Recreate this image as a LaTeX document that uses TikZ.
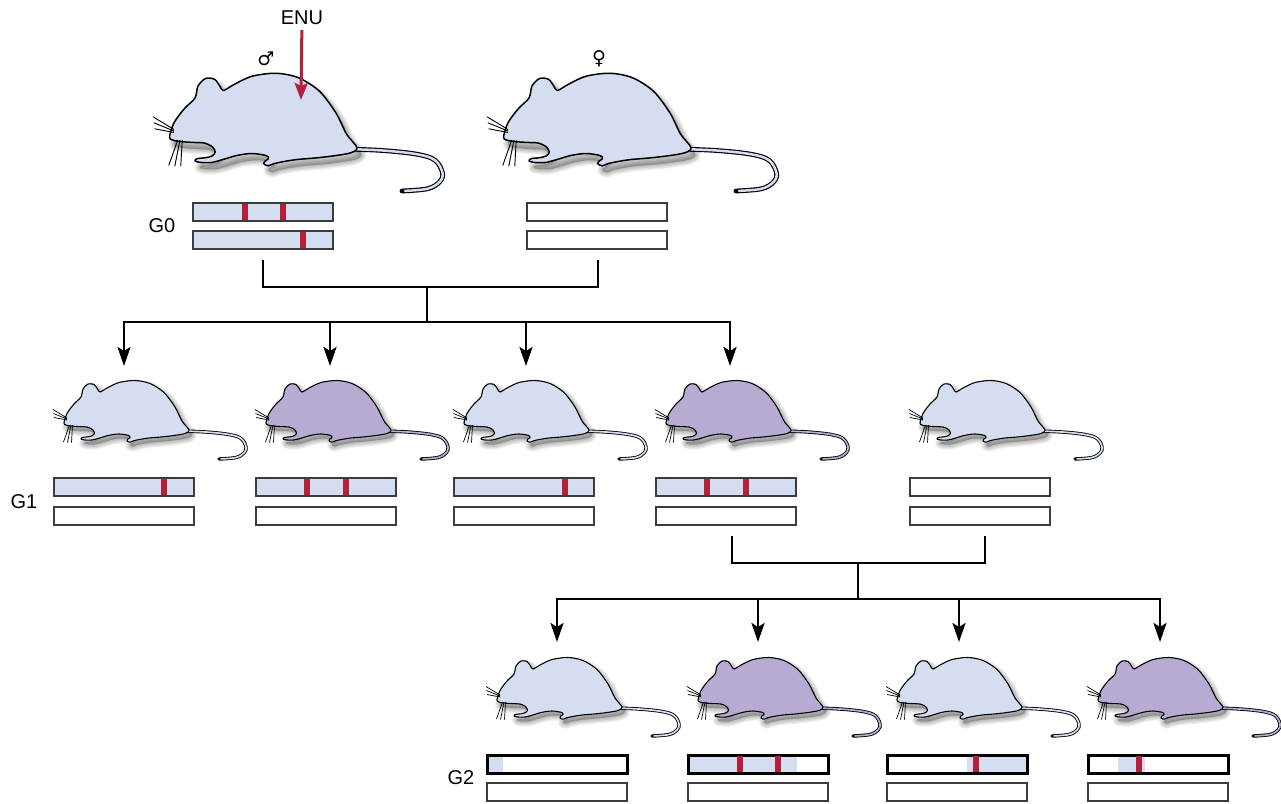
\documentclass[tikz,border=0pt]{standalone}
\usepackage{fontspec}
\setmainfont{Liberation Sans}
\newfontfamily\symbolfont{DejaVu Sans}
\usetikzlibrary{arrows.meta}

\definecolor{mouseblue}{HTML}{D5DEF0}
\definecolor{mousepurple}{HTML}{B8ABD3}
\definecolor{mutred}{HTML}{B41F3C}
\definecolor{barline}{HTML}{3C3C3C}

% mouse silhouette in local units (y grows downward)
\def\mousebody{plot[smooth cycle, tension=0.5] coordinates {
 (15,48) (18,38.5) (25,29) (32,22) (34,14) (39,9) (45,9.5) (48.5,14) (51,17)
 (58,13) (70,7.5) (86,5.5) (101,8.5) (115,17.5) (126,32) (133,46) (140,55)
 (136,58.5) (125,60.5) (112,62) (100,63) (91,64.4) (84.5,65.8) (81,67.2)
 (78,66) (78.5,64.3) (81,62.4) (79.5,60.4) (70,59) (60,60.3) (50,63.2)
 (43,65) (36,65) (32,64) (33.5,62.4) (39,61.8) (43.5,60.6) (45.5,58)
 (43.5,54.5) (38,52) (30,51.6) (22,51) (17,50)}}
\def\mousetail{plot[smooth, tension=0.6] coordinates {
 (132,56) (157,57) (180,59.5) (192,63.5) (197,72) (195,78) (187,82.5) (170,84)}}
\def\mousetailin{plot[smooth, tension=0.6] coordinates {
 (132,56) (157,57) (180,59.5) (192,63.5) (197,72) (195,78) (187,82.5) (172,83.9)}}

% line widths of a mouse drawing (changed for the larger parents)
\def\bodylw{1.1pt}
\def\tailout{3.4pt}
\def\tailin{1.7pt}
\def\whiskerlw{0.7pt}

\tikzset{
  pics/mouse/.style={code={
    % soft drop shadow
    \foreach \w in {10,7.5,5,2.5}{
      \filldraw[black, fill opacity=0.065, draw opacity=0.065, line width=\w pt,
        line join=round, shift={(3,4.5)}] \mousebody;
    }
    % tail
    \draw[black, line width=\tailout, line cap=round] \mousetail;
    \draw[#1, line width=\tailin, line cap=round] \mousetailin;
    % body
    \draw[fill=#1, line width=\bodylw, line join=round] \mousebody;
    % whiskers
    \draw[line width=\whiskerlw]
      (18,43) -- (4,34.5)  (18,44) -- (4.5,38.5)  (18,45) -- (5,42.5)
      (20.5,50) -- (14.5,67)  (22,50) -- (18.5,67.5)  (23.5,50) -- (22.5,67.5);
  }},
  chrbox/.style={draw=barline, line width=1.4pt, minimum width=140pt,
    minimum height=18pt, inner sep=0pt, outer sep=0pt, anchor=north west, fill=white},
  chrblue/.style={chrbox, fill=mouseblue},
  chrbold/.style={draw=black, line width=3pt},
  lbl/.style={font=\fontsize{20}{24}\selectfont, inner sep=1pt},
  link/.style={line width=2.5pt, line cap=rect},
  linkarrow/.style={line width=2.5pt, -{Stealth[length=19pt, width=13pt, inset=4pt]}},
  enuarrow/.style={mutred, line width=3pt, -{Stealth[length=17pt, width=13pt, inset=3pt]}}
}

% red mutation mark inside a bar: #1 bar node, #2 offset from left end
\newcommand{\mutmark}[2]{%
  \fill[mutred] ([xshift={(#2-3)*1pt}, yshift=-0.7pt]#1.north west)
    rectangle ([xshift={(#2+3)*1pt}, yshift=0.7pt]#1.south west);}
% blue stretch inside a white bar: #1 bar node, #2 from, #3 to, #4 inset
\newcommand{\bluestretch}[4]{%
  \fill[mouseblue] ([xshift={(#2+#4)*1pt}, yshift={-#4*1pt}]#1.north west)
    rectangle ([xshift={(#3-#4)*1pt}, yshift={#4*1pt}]#1.south west);}

\begin{document}
\begin{tikzpicture}[x=1pt, y=-1pt]
\useasboundingbox (0,0) rectangle (1281,803);
\fill[white] (0,0) rectangle (1281,803);

% ---------- G0 parents ----------
\begin{scope}
  \def\bodylw{1.5pt}\def\tailout{4.8pt}\def\tailin{2.5pt}\def\whiskerlw{0.9pt}
  \pic[scale=1.5] (father) at (147,65) {mouse=mouseblue};
  \pic[scale=1.5] (mother) at (481,65) {mouse=mouseblue};
\end{scope}
\node[font=\symbolfont\fontsize{19}{22}\selectfont, inner sep=0pt] (male) at (266,59) {♂};
\node[font=\symbolfont\fontsize{19}{22}\selectfont, inner sep=0pt] (female) at (599,59) {♀};

\node[font=\fontsize{20}{24}\selectfont, inner sep=1pt] (enu) at (302,18) {ENU};
\coordinate (enutip) at (301,100);
\draw[enuarrow, shorten <=4pt] (enu) -- (enutip);

\node[lbl] (g0) at (162,226) {G0};
\node[chrblue] (f1) at (193,203) {};
\node[chrblue] (f2) at (193,231) {};
\mutmark{f1}{51.5}\mutmark{f1}{90}\mutmark{f2}{110}
\node[chrbox] (m1) at (527,203) {};
\node[chrbox] (m2) at (527,231) {};

% cross of the parents
\coordinate (c0m) at (263,261);
\coordinate (c0f) at (598,261);
\coordinate (c0j) at (427,287);
\coordinate (c1j) at (427,322);
\draw[link] (c0m) |- (c0j) -| (c0f);
\draw[link] (c0j) -- (c1j);
\coordinate (t1) at (124,366);
\coordinate (t2) at (330,366);
\coordinate (t3) at (526,366);
\coordinate (t4) at (730,366);
\draw[linkarrow] (c1j) -| (t1);
\draw[linkarrow] (c1j) -| (t2);
\draw[linkarrow] (c1j) -| (t3);
\draw[linkarrow] (c1j) -| (t4);

% ---------- G1 ----------
\pic (k1) at (49,375) {mouse=mouseblue};
\pic (k2) at (251,375) {mouse=mousepurple};
\pic (k3) at (449,375) {mouse=mouseblue};
\pic (k4) at (651,375) {mouse=mousepurple};
\pic (k5) at (905,375) {mouse=mouseblue};

\node[lbl] (g1) at (24,502) {G1};
\node[chrblue] (a1) at (54,478) {};   \node[chrbox] (b1) at (54,507) {};
\node[chrblue] (a2) at (256,478) {};  \node[chrbox] (b2) at (256,507) {};
\node[chrblue] (a3) at (454,478) {};  \node[chrbox] (b3) at (454,507) {};
\node[chrblue] (a4) at (656,478) {};  \node[chrbox] (b4) at (656,507) {};
\node[chrbox] (a5) at (910,478) {};   \node[chrbox] (b5) at (910,507) {};
\mutmark{a1}{110}
\mutmark{a2}{51}\mutmark{a2}{90}
\mutmark{a3}{111}
\mutmark{a4}{51}\mutmark{a4}{90}

% cross of G1 mutant with a wild type
\coordinate (c2m) at (732,537);
\coordinate (c2f) at (985,537);
\coordinate (c2j) at (858,563);
\coordinate (c3j) at (858,599);
\draw[link] (c2m) |- (c2j) -| (c2f);
\draw[link] (c2j) -- (c3j);
\coordinate (u1) at (557,642);
\coordinate (u2) at (758,642);
\coordinate (u3) at (959,642);
\coordinate (u4) at (1160,642);
\draw[linkarrow] (c3j) -| (u1);
\draw[linkarrow] (c3j) -| (u2);
\draw[linkarrow] (c3j) -| (u3);
\draw[linkarrow] (c3j) -| (u4);

% ---------- G2 ----------
\pic (n1) at (482,652) {mouse=mouseblue};
\pic (n2) at (683,652) {mouse=mousepurple};
\pic (n3) at (882,652) {mouse=mouseblue};
\pic (n4) at (1083,652) {mouse=mousepurple};

\node[lbl] (g2) at (461,778) {G2};
\node[chrbox, chrbold] (p1) at (487,755) {};   \node[chrbox] (q1) at (487,783) {};
\node[chrbox, chrbold] (p2) at (688,755) {};   \node[chrbox] (q2) at (688,783) {};
\node[chrbox, chrbold] (p3) at (887,755) {};   \node[chrbox] (q3) at (887,783) {};
\node[chrbox, chrbold] (p4) at (1088,755) {};  \node[chrbox] (q4) at (1088,783) {};
\bluestretch{p1}{0}{17}{1.5}
\bluestretch{p2}{0}{110}{1.5}
\bluestretch{p3}{78}{140}{1.5}
\bluestretch{p4}{28}{58}{1.5}
\mutmark{p2}{52}\mutmark{p2}{90}
\mutmark{p3}{89}
\mutmark{p4}{51}
\end{tikzpicture}
\end{document}
